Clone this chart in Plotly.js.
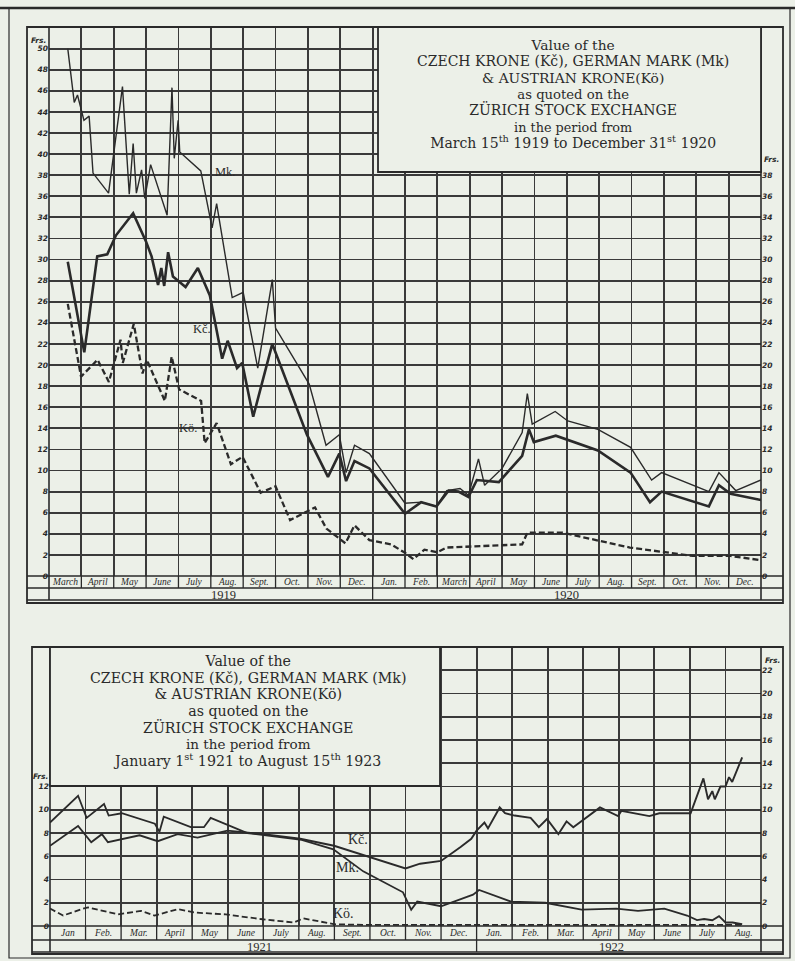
<!DOCTYPE html>
<html><head><meta charset="utf-8">
<script src="https://cdn.plot.ly/plotly-3.0.1.min.js"></script>
<style>html,body{margin:0;padding:0;background:#ecf0e8;}</style>
</head><body><div id="chart" style="width:795px;height:961px;"></div>
<script>
// ---------- DATA (x = months elapsed since start of first month shown) ----------
// Top chart: 15 March 1919 – 31 December 1920
const topMonths = ['March','April','May','June','July','Aug.','Sept.','Oct.','Nov.','Dec.',
  'Jan.','Feb.','March','April','May','June','July','Aug.','Sept.','Oct.','Nov.','Dec.'];
const topYears = ['1919','1920'];
const topYearPos = [5.4, 16.0];
const topYearBreaks = [10];
const mkTopX = [0.58,0.78,0.88,1.08,1.24,1.36,1.84,2.27,2.48,2.60,2.70,2.86,2.96,3.14,3.65,3.80,3.87,3.99,4.04,4.69,5.04,5.18,5.66,6.00,6.45,6.90,7.00,8.04,8.56,8.97,9.18,9.44,9.90,11.00,11.50,11.97,12.29,12.70,12.96,13.27,13.46,14.00,14.62,14.78,14.93,15.64,16.03,16.96,17.97,18.62,18.93,20.39,20.70,21.22,22.00];
const mkTopY = [50.0,44.9,45.6,43.2,43.6,38.2,36.3,46.4,36.2,41.0,36.3,38.5,35.8,39.0,34.2,46.3,39.6,43.2,40.2,38.4,33.0,35.3,26.4,26.9,19.7,28.1,23.5,18.2,12.4,13.4,9.8,12.4,11.6,6.9,7.0,6.6,8.1,8.3,7.65,11.1,8.6,10.2,13.6,17.3,14.4,15.6,14.7,13.9,12.2,9.1,9.8,8.0,9.8,8.1,9.1];
const kcTopX = [0.58,1.09,1.49,1.80,2.07,2.60,3.00,3.17,3.37,3.47,3.56,3.68,3.83,4.22,4.60,4.97,5.35,5.52,5.81,5.97,6.31,6.90,7.97,8.62,8.97,9.18,9.44,9.90,11.00,11.50,11.97,12.35,12.65,12.96,13.22,13.90,14.62,14.83,14.98,15.66,16.96,17.97,18.57,18.93,20.39,20.70,21.06,22.00];
const kcTopY = [29.8,21.2,30.3,30.5,32.3,34.4,31.7,30.3,27.6,29.2,27.5,30.7,28.4,27.4,29.2,26.6,20.6,22.3,19.7,20.2,15.1,22.0,13.4,9.4,11.6,9.0,10.9,10.2,5.9,7.0,6.6,8.1,8.0,7.5,9.1,8.9,11.4,13.9,12.7,13.3,11.9,9.8,7.0,8.0,6.6,8.6,7.8,7.2];
const koTopX = [0.58,0.99,1.50,1.85,2.21,2.28,2.62,2.89,3.02,3.58,3.79,4.02,4.70,4.81,5.18,5.62,5.98,6.54,7.00,7.45,8.22,8.57,9.16,9.44,9.90,10.57,11.00,11.26,11.60,12.00,12.29,14.62,14.78,15.87,17.95,18.67,19.90,21.06,22.00];
const koTopY = [25.8,18.9,20.5,18.4,22.4,20.2,23.9,19.2,20.5,16.6,20.8,17.7,16.6,12.6,14.5,10.6,11.3,7.9,8.5,5.3,6.5,4.5,3.1,4.8,3.4,3.0,2.2,1.6,2.5,2.25,2.7,3.0,4.1,4.1,2.7,2.4,1.9,1.9,1.5];
const topLeftTicks = [0,2,4,6,8,10,12,14,16,18,20,22,24,26,28,30,32,34,36,38,40,42,44,46,48,50];
const topRightTicks = [0,2,4,6,8,10,12,14,16,18,20,22,24,26,28,30,32,34,36,38];

// Bottom chart: 1 January 1921 – 15 August 1922
const botMonths = ['Jan','Feb.','Mar.','April','May','June','July','Aug.','Sept.','Oct.','Nov.','Dec.',
  'Jan.','Feb.','Mar.','April','May','June','July','Aug.'];
const botYears = ['1921','1922'];
const botYearPos = [5.9, 15.8];
const botYearBreaks = [12];
const mkBotX = [0.00,0.79,1.03,1.52,1.65,2.02,2.95,3.08,3.20,3.96,4.33,4.52,5.55,7.08,7.97,8.81,9.93,10.16,10.33,11.00,11.90,12.07,12.97,13.93,14.95,15.93,16.54,17.28,17.92,18.20,18.40,18.63,18.82,19.00,19.20,19.47];
const mkBotY = [8.9,11.2,9.3,10.5,9.5,9.7,8.8,8.1,9.4,8.5,8.5,9.3,8.0,7.4,6.6,4.7,2.9,1.4,2.1,1.7,2.7,3.1,2.1,2.0,1.4,1.5,1.3,1.5,0.9,0.5,0.6,0.5,0.85,0.3,0.3,0.15];
const kcBotX = [0.00,0.79,1.16,1.46,1.63,2.52,3.03,3.59,4.15,4.99,6.01,7.04,7.99,8.99,10.00,10.41,11.00,11.55,11.85,12.00,12.22,12.32,12.65,12.80,13.07,13.52,13.75,13.98,14.30,14.53,14.72,15.47,15.61,15.98,16.07,16.86,17.14,18.02,18.38,18.51,18.63,18.70,18.86,19.00,19.10,19.19,19.47];
const kcBotY = [6.9,8.6,7.2,7.9,7.2,7.8,7.3,7.9,7.6,8.2,7.9,7.5,6.9,5.9,4.95,5.36,5.6,6.8,7.5,8.2,8.9,8.4,10.2,9.7,9.5,9.3,8.5,9.2,7.9,9.0,8.5,10.2,10.0,9.45,9.9,9.45,9.7,9.7,12.7,10.9,11.6,10.9,12.0,12.0,12.8,12.4,14.5];
const koBotX = [0.00,0.37,0.89,1.07,1.91,2.56,2.94,3.59,4.10,4.94,5.92,6.85,7.13,8.01,8.80,10.0,12.0,14.0,16.0,18.0,19.47];
const koBotY = [1.5,0.9,1.45,1.6,1.0,1.3,0.9,1.45,1.15,1.0,0.6,0.3,0.65,0.15,0.1,0.1,0.1,0.1,0.1,0.1,0.1];
const botLeftTicks = [0,2,4,6,8,10,12];
const botRightTicks = [0,2,4,6,8,10,12,14,16,18,20,22];

const topTitle = ['Value of the','CZECH KRONE (Kč), GERMAN MARK (Mk)','& AUSTRIAN KRONE(Kö)','as quoted on the',
  'ZÜRICH STOCK EXCHANGE','in the period from','March 15<sup>th</sup> 1919 to December 31<sup>st</sup> 1920'];
const botTitle = ['Value of the','CZECH KRONE (Kč), GERMAN MARK (Mk)','& AUSTRIAN KRONE(Kö)','as quoted on the',
  'ZÜRICH STOCK EXCHANGE','in the period from','January 1<sup>st</sup> 1921 to August 15<sup>th</sup> 1923'];

// ---------- LAYOUT HELPERS ----------
const W = 795, H = 961;
const PX = v => v / W, PY = v => 1 - v / H;
const BG = '#ecf0e8', INK = '#2a2a2a', GRID = '#3a3a3a';
const serif = 'Liberation Serif, DejaVu Serif, serif';
const titleSerif = 'DejaVu Serif, Liberation Serif, serif';

const shapes = [];
function line(x0, y0, x1, y1, w) {
  shapes.push({type:'line', xref:'paper', yref:'paper', x0:PX(x0), x1:PX(x1), y0:PY(y0), y1:PY(y1),
    line:{color: INK, width: w || 1.6}, layer:'above'});
}
function rect(x0, y0, x1, y1, w, fill) {
  shapes.push({type:'rect', xref:'paper', yref:'paper', x0:PX(x0), x1:PX(x1), y0:PY(y0), y1:PY(y1),
    line:{color: INK, width: w || 1.6}, fillcolor: fill || 'rgba(0,0,0,0)', layer:'above'});
}
const ann = [];
function text(t, x, y, size, opt) {
  opt = opt || {};
  ann.push({text:t, x: opt.xref ? x : PX(x), y: opt.yref ? y : PY(y),
    xref: opt.xref || 'paper', yref: opt.yref || 'paper', showarrow:false,
    xanchor:'center', yanchor:'middle',
    font:{family: opt.family || serif, size:size, color:INK, style: opt.style || 'normal', weight: opt.weight || 'normal'}});
}
const titleBlock = (lines, sizes) => lines.map((t, i) => `<span style="font-size:${sizes[i]}px">${t}</span>`).join('<br>');

// page border
rect(9, 8, 790, 958, 1.2);
line(0, 8, 795, 8, 2.5);

// ----- top chart frame -----
const T = {l:49, r:761, top:27, bot:576, row1:588, row2:600, fl:27, fr:783, fb:603};
rect(T.fl, T.top, T.fr, T.fb, 1.8);
line(T.l, T.top, T.l, T.row2);
line(T.r, T.top, T.r, T.row2);
line(T.fl, T.bot, T.fr, T.bot);
line(T.fl, T.row1, T.fr, T.row1);
line(T.fl, T.row2, T.fr, T.row2);
topMonths.forEach((m, i) => {
  if (i > 0) shapes.push({type:'line', xref:'x', yref:'paper', x0:i, x1:i, y0:PY(T.bot), y1:PY(T.row1), line:{color:INK,width:1.3}, layer:'above'});
  text(m, i + 0.5, 582, 9.5, {xref:'x', style:'italic'});
});
topYearBreaks.forEach(b => shapes.push({type:'line', xref:'x', yref:'paper', x0:b, x1:b, y0:PY(T.row1), y1:PY(T.row2), line:{color:INK,width:1.3}, layer:'above'}));
topYears.forEach((y, i) => text(y, topYearPos[i], 594.5, 12.5, {xref:'x'}));
// title box
rect(378, T.top, T.r, 172, 1.8, BG);
text(titleBlock(topTitle, [13.8, 14, 13.8, 13.2, 14, 12.8, 14]), 573, 94, 12.55, {family:titleSerif});
text('Frs.', 38, 40, 7.5, {family:'DejaVu Sans', style:'italic', weight:'bold'});
text('Frs.', 771, 160, 7.5, {family:'DejaVu Sans', style:'italic', weight:'bold'});
text('Mk.', 5.45, 38.3, 12.5, {xref:'x', yref:'y'});
text('Kč.', 4.73, 23.4, 12.5, {xref:'x', yref:'y'});
text('Kö.', 4.3, 14.0, 12.5, {xref:'x', yref:'y'});

// ----- bottom chart frame -----
const B = {l:50, r:761, top:647, bot:926, row1:940, row2:952, fl:32, fr:783, fb:954};
rect(B.fl, B.top, B.fr, B.fb, 1.8);
line(B.l, B.top, B.l, B.row2);
line(B.r, B.top, B.r, B.row2);
line(B.fl, B.bot, B.fr, B.bot);
line(B.fl, B.row1, B.fr, B.row1);
line(B.fl, B.row2, B.fr, B.row2);
botMonths.forEach((m, i) => {
  if (i > 0) shapes.push({type:'line', xref:'x2', yref:'paper', x0:i, x1:i, y0:PY(B.bot), y1:PY(B.row1), line:{color:INK,width:1.3}, layer:'above'});
  text(m, i + 0.5, 933, 9.5, {xref:'x2', style:'italic'});
});
botYearBreaks.forEach(b => shapes.push({type:'line', xref:'x2', yref:'paper', x0:b, x1:b, y0:PY(B.row1), y1:PY(B.row2), line:{color:INK,width:1.3}, layer:'above'}));
botYears.forEach((y, i) => text(y, botYearPos[i], 946.5, 12.5, {xref:'x2'}));
rect(B.l, B.top, 440, 786, 1.8, BG);
text(titleBlock(botTitle, [14.2, 14.2, 14.2, 14.2, 14.2, 13.5, 14.2]), 248, 711, 12.8, {family:titleSerif});
text('Frs.', 40, 776, 7.5, {family:'DejaVu Sans', style:'italic', weight:'bold'});
text('Frs.', 772, 660, 7.5, {family:'DejaVu Sans', style:'italic', weight:'bold'});
text('Kč.', 8.65, 7.45, 14, {xref:'x2', yref:'y3'});
text('Mk.', 8.37, 5.0, 14, {xref:'x2', yref:'y3'});
text('Kö.', 8.26, 1.1, 14, {xref:'x2', yref:'y3'});

// ---------- TRACES ----------
const traces = [
  {x: mkTopX, y: mkTopY, xaxis:'x', yaxis:'y', line:{color:INK, width:1.4}},
  {x: kcTopX, y: kcTopY, xaxis:'x', yaxis:'y', line:{color:INK, width:2.6}},
  {x: koTopX, y: koTopY, xaxis:'x', yaxis:'y', line:{color:INK, width:2.3, dash:'6px,3px'}},
  {x: [], y: [], xaxis:'x', yaxis:'y2'},
  {x: mkBotX, y: mkBotY, xaxis:'x2', yaxis:'y3', line:{color:INK, width:1.8}},
  {x: kcBotX, y: kcBotY, xaxis:'x2', yaxis:'y3', line:{color:INK, width:1.9}},
  {x: koBotX, y: koBotY, xaxis:'x2', yaxis:'y3', line:{color:INK, width:1.8, dash:'6px,3px'}},
  {x: [], y: [], xaxis:'x2', yaxis:'y4'}
].map(t => Object.assign({type:'scatter', mode:'lines', hoverinfo:'skip', showlegend:false}, t));

const tickFont = {family:'DejaVu Sans', size:7.5, color:INK, style:'italic', weight:'bold'};
const intRange = n => Array.from({length:n+1}, (_, i) => i);
const gridMinor = {tick0:0, dtick:2, showgrid:true, gridcolor:GRID, gridwidth:1.8, ticks:''};

const layout = {
  width: W, height: H, margin:{l:0, r:0, t:0, b:0},
  paper_bgcolor: BG, plot_bgcolor: BG, showlegend:false,
  xaxis: {domain:[PX(T.l), PX(T.r)], range:[0, 22], anchor:'y', tickmode:'array', tickvals:intRange(22),
    showticklabels:false, ticks:'', showgrid:true, gridcolor:GRID, gridwidth:1.8, zeroline:false, showline:false, fixedrange:true},
  yaxis: {domain:[PY(T.bot), PY(T.top)], range:[0, 52.05], anchor:'x', tickmode:'array', tickvals:topLeftTicks,
    ticktext: topLeftTicks.map(String), tickfont:tickFont, ticks:'', showgrid:true, gridcolor:GRID, gridwidth:1.8,
    zeroline:false, showline:false, fixedrange:true},
  yaxis2: {overlaying:'y', side:'right', anchor:'x', range:[0, 52.05], tickmode:'array', tickvals:topRightTicks,
    ticktext: topRightTicks.map(String), tickfont:tickFont, ticks:'', showgrid:false, zeroline:false, showline:false, fixedrange:true},
  xaxis2: {domain:[PX(B.l), PX(B.r)], range:[0, 20], anchor:'y3', tickmode:'array', tickvals:intRange(20),
    showticklabels:false, ticks:'', showgrid:true, gridcolor:GRID, gridwidth:1.8, zeroline:false, showline:false, fixedrange:true},
  yaxis3: {domain:[PY(B.bot), PY(B.top)], range:[0, 24], anchor:'x2', tickmode:'array', tickvals:botLeftTicks,
    ticktext: botLeftTicks.map(String), tickfont:tickFont, ticks:'', minor: Object.assign({}, gridMinor),
    showgrid:true, gridcolor:GRID, gridwidth:1.8, zeroline:false, showline:false, fixedrange:true},
  yaxis4: {overlaying:'y3', side:'right', anchor:'x2', range:[0, 24], tickmode:'array', tickvals:botRightTicks,
    ticktext: botRightTicks.map(String), tickfont:tickFont, ticks:'', showgrid:false, zeroline:false, showline:false, fixedrange:true},
  shapes: shapes,
  annotations: ann
};

Plotly.newPlot('chart', traces, layout, {staticPlot:true, displayModeBar:false});
</script></body></html>
